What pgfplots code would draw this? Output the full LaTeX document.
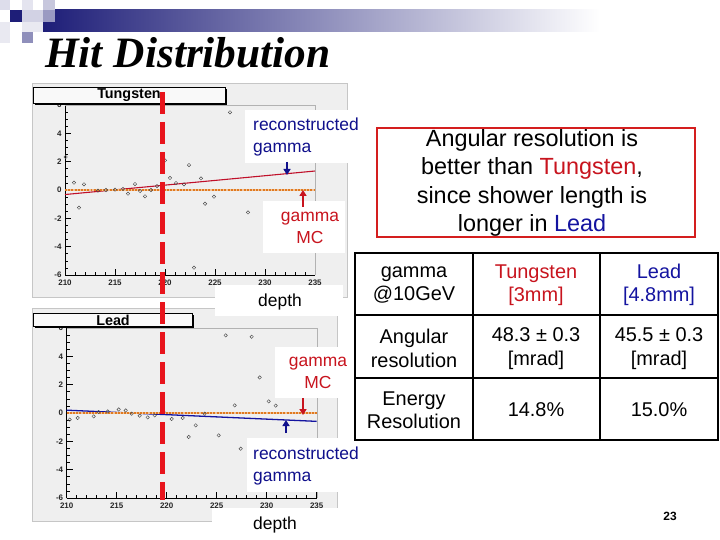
\documentclass[border=0pt]{standalone}
\usepackage{pgfplots}
\pgfplotsset{compat=1.18}
\usepackage{pgfplotstable}
\usepackage{fontspec}
\setmainfont{Liberation Sans}
\setsansfont{Liberation Sans}
\newfontfamily\titlefont{Liberation Serif}
\usetikzlibrary{arrows.meta}
\definecolor{navy}{HTML}{1E1E78}
\definecolor{annblue}{HTML}{10108C}
\definecolor{annred}{HTML}{C8141E}
\definecolor{dashred}{HTML}{E8141C}
\definecolor{mcorange}{HTML}{E07A20}
\definecolor{fitred}{HTML}{C0102A}
\definecolor{fitblue}{HTML}{1414A0}
\definecolor{canvas}{HTML}{EFEFEF}
\definecolor{boxred}{HTML}{D41E1E}

\pgfplotstableread{
x y
210.07 2.33
210.9 0.52
211.9 0.40
211.4 -1.25
213.3 -0.05
214.1 0.0
215.0 0.02
215.8 0.08
216.3 -0.26
217.0 0.42
217.5 -0.07
218.0 -0.45
218.6 0.0
219.2 0.28
220.0 2.09
220.5 0.85
221.1 0.49
221.9 0.40
222.4 1.76
223.6 0.82
224.9 -0.47
224.0 -0.97
226.5 5.48
228.3 -1.58
222.9 -5.48
}\tungsten

\pgfplotstableread{
x y
210.3 -0.47
211.1 -0.35
212.7 -0.24
213.2 0.07
214.1 0.11
215.2 0.25
215.9 0.18
216.5 -0.05
217.3 -0.19
218.1 -0.31
218.8 -0.17
219.7 0.07
220.5 -0.42
221.6 -0.35
222.9 -0.87
222.2 -1.69
223.8 -0.05
225.2 -1.58
225.9 5.48
226.8 0.54
227.4 -2.52
228.5 5.38
229.3 2.51
230.2 0.82
230.9 0.52
}\lead

\pgfplotsset{rootstyle/.style={
  scale only axis, width=250bp, height=170bp,
  xmin=210, xmax=235, ymin=-6, ymax=6,
  xtick={210,215,...,235}, ytick={-6,-4,...,6},
  minor x tick num=4, minor y tick num=3,
  axis lines*=left, tick align=inside,
  major tick length=6bp, minor tick length=3bp,
  axis line style={black, line width=0.6pt, -},
  tick style={black, line width=0.6pt},
  ticklabel style={font=\bfseries\fontsize{8}{9}\selectfont, black!85},
  xticklabel style={yshift=-1bp},
  /pgf/number format/assume math mode=true,
  axis background/.style={fill=canvas},
  clip=false,
}}

\begin{document}
\begin{tikzpicture}[x=1bp,y=1bp]
\useasboundingbox (0,0) rectangle (720,-540);
\begin{scope}[yscale=-1]
\fill[white] (0,0) rectangle (720,540);
\coordinate (tw) at (65,275);
\coordinate (pb) at (66.7,498);
% top-left decoration
\shade[left color=navy, right color=white] (43,10) rectangle (600,32);
\fill[navy!15] (0,0) rectangle (10,10);
\fill[navy!12] (22,0) rectangle (33,10);
\fill[navy!25] (43,0) rectangle (55,10);
\fill[navy!20] (22,10) rectangle (43,22);
\fill[navy] (10,10) rectangle (22,22);
\fill[navy!45] (43,10) rectangle (55,22);
\fill[navy!10] (22,22) rectangle (43,32);
\fill[navy!10] (0,22) rectangle (10,43);
\fill[navy!50] (22,32) rectangle (33,43);
% title
\node[anchor=base west, inner sep=0, font=\titlefont\bfseries\itshape\fontsize{43.5}{50}\selectfont] at (45,68) {Hit Distribution};
% canvases
\fill[canvas] (32,83) rectangle (347,297);
\draw[gray!45] (32,83) rectangle (347,297);
\fill[canvas] (32,308) rectangle (337,521);
\draw[gray!45] (32,308) rectangle (337,521);
\end{scope}

% Tungsten plot
\begin{axis}[rootstyle, at={(tw)}, anchor=south west]
\draw[gray!60] (rel axis cs:0,1) -- (rel axis cs:1,1) -- (rel axis cs:1,0);
\addplot[fitred, line width=1.1pt] coordinates {(210,-0.32) (235,1.34)};
\addplot[only marks, mark=o, mark size=1.7, black!70, line width=0.45pt] table {\tungsten};
\addplot[mcorange!45, line width=3pt] coordinates {(210,0) (235,0)};
\addplot[mcorange, line width=3pt, dash pattern=on 2pt off 1.2pt] coordinates {(210,0) (235,0)};
\end{axis}

% Lead plot
\begin{axis}[rootstyle, at={(pb)}, anchor=south west]
\draw[gray!60] (rel axis cs:0,1) -- (rel axis cs:1,1) -- (rel axis cs:1,0);
\addplot[fitblue, line width=1.3pt] coordinates {(210,0.2) (235,-0.59)};
\addplot[only marks, mark=o, mark size=1.7, black!70, line width=0.45pt] table {\lead};
\addplot[mcorange!45, line width=3pt] coordinates {(210,0) (235,0)};
\addplot[mcorange, line width=3pt, dash pattern=on 2pt off 1.2pt] coordinates {(210,0) (235,0)};
\end{axis}

\begin{scope}[yscale=-1]
% ROOT title boxes
\draw[line width=1.6bp] (35,104) -- (226.5,104) -- (226.5,89);
\draw[fill=gray!5, line width=0.6bp] (33,87) rectangle (225,103);
\node[font=\bfseries\fontsize{14.4}{16}\selectfont] at (129,95.5) {Tungsten};
\draw[line width=1.6bp] (35,327.5) -- (193.5,327.5) -- (193.5,315);
\draw[fill=gray!5, line width=0.6bp] (33,313) rectangle (192,326);
\node[font=\bfseries\fontsize{14.4}{16}\selectfont] at (113,320) {Lead};

% red dashed depth line
\draw[dashred, line width=5bp, dash pattern=on 22bp off 8bp] (162,92) -- (162,500);

% annotation boxes
\fill[white] (245,110) rectangle (365,163);
\node[anchor=west, align=left, inner sep=0, text=annblue, font=\fontsize{17.5}{22}\selectfont] at (253,137) {reconstructed\\gamma};
\draw[annblue, line width=2bp, -{Triangle[length=6bp,width=7bp]}] (287,162) -- (287,175);

\fill[white] (263,201) rectangle (345,253);
\node[align=center, inner sep=0, text=annred, font=\fontsize{17.5}{22}\selectfont] at (310,228) {gamma\\MC};
\draw[annred, line width=2bp, -{Triangle[length=6bp,width=7bp]}] (303,207) -- (303,190);

\fill[white] (215,285) rectangle (343,316);
\node[font=\fontsize{17.5}{22}\selectfont] at (280,302) {depth};

\fill[white] (275,347) rectangle (354,398);
\node[align=center, inner sep=0, text=annred, font=\fontsize{17.5}{22}\selectfont] at (318,373) {gamma\\MC};
\draw[annred, line width=2bp, -{Triangle[length=6bp,width=7bp]}] (303,398) -- (303,415);
\draw[annblue, line width=2bp, -{Triangle[length=6bp,width=7bp]}] (286,433) -- (286,420);

\fill[white] (247,438) rectangle (365,492);
\node[anchor=west, align=left, inner sep=0, text=annblue, font=\fontsize{17.5}{22}\selectfont] at (253,466) {reconstructed\\gamma};

\fill[white] (212,508) rectangle (343,540);
\node[font=\fontsize{17.5}{22}\selectfont] at (275,525) {depth};

% red text box
\draw[boxred, line width=2.5bp] (377,128) rectangle (695,237);
\node[align=center, inner sep=0, font=\fontsize{23.5}{28.5}\selectfont] at (532,183)
 {Angular resolution is\\better than \textcolor{annred}{Tungsten},\\since shower length is\\longer in \textcolor{fitblue}{Lead}};

% table
\draw[line width=2.5bp] (355,253) rectangle (718,440);
\draw[line width=2.5bp] (473,253) -- (473,440) (600,253) -- (600,440);
\draw[line width=2.5bp] (355,315) -- (718,315) (355,378) -- (718,378);
\begin{scope}[every node/.style={align=center, inner sep=0, font=\fontsize{20}{23.5}\selectfont}]
\node at (414,285) {gamma\\@10GeV};
\node[text=annred] at (536,285) {Tungsten\\{[3mm]}};
\node[text=fitblue] at (659,285) {Lead\\{[4.8mm]}};
\node at (414,348.5) {Angular\\resolution};
\node at (536,348.5) {48.3 ± 0.3\\{[mrad]}};
\node at (659,348.5) {45.5 ± 0.3\\{[mrad]}};
\node at (414,410) {Energy\\Resolution};
\node at (536,410) {14.8\%};
\node at (659,410) {15.0\%};
\end{scope}

\node[font=\bfseries\fontsize{12}{14}\selectfont] at (670,516) {23};
\end{scope}
\end{tikzpicture}
\end{document}
